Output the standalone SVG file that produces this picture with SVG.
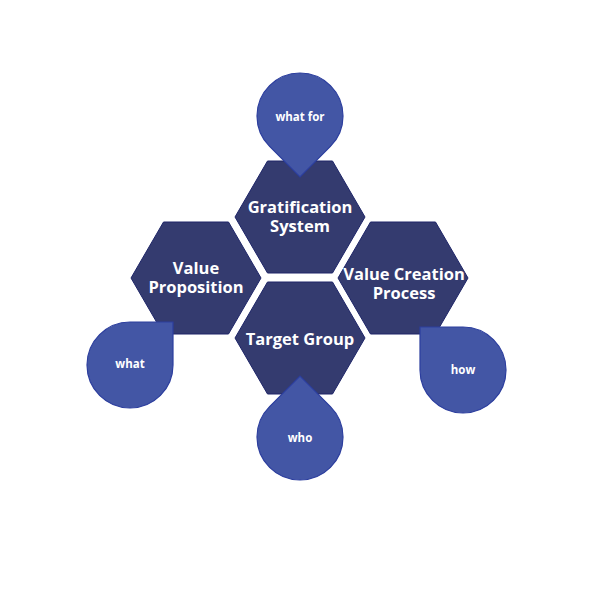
<svg xmlns="http://www.w3.org/2000/svg" width="600" height="600" viewBox="0 0 600 600">
<defs>
<style>
.hex{fill:#343B6F;stroke:#1E2568;stroke-width:1}
.drop{fill:#4356A5;stroke:#2C3E9E;stroke-width:1.2}
.ht{font-family:"Open Sans","Liberation Sans",sans-serif;font-weight:bold;font-size:16.5px;fill:#fff;text-anchor:middle}
.dt{font-family:"Open Sans","Liberation Sans",sans-serif;font-weight:bold;font-size:11.5px;fill:#fff;text-anchor:middle}
</style>
<path id="tear" d="M-43,0 A43,43 0 0 1 0,-43 L43,-43 L43,0 A43,43 0 0 1 0,43 A43,43 0 0 1 -43,0 Z"/>
<polygon id="hexshape" points="-65,0 -32.5,-56 32.5,-56 65,0 32.5,56 -32.5,56"/>
</defs>
<rect width="600" height="600" fill="#fff"/>
<g id="connectors"/>
<g id="hex-gratification">
<use href="#hexshape" class="hex" transform="translate(300,217)"/>
<text class="ht" x="300" y="213">Gratification<tspan x="300" dy="19">System</tspan></text>
</g>
<g id="hex-value-proposition">
<use href="#hexshape" class="hex" transform="translate(196,278)"/>
<text class="ht" x="196" y="274">Value<tspan x="196" dy="19">Proposition</tspan></text>
</g>
<g id="hex-value-creation">
<use href="#hexshape" class="hex" transform="translate(403,278)"/>
<text class="ht" x="404" y="280">Value Creation<tspan x="404" dy="19">Process</tspan></text>
</g>
<g id="hex-target-group">
<use href="#hexshape" class="hex" transform="translate(300,338)"/>
<text class="ht" x="300" y="345">Target Group</text>
</g>
<g id="drop-what-for">
<use href="#tear" class="drop" transform="translate(300,116) rotate(135)"/>
<text class="dt" x="300" y="121">what for</text>
</g>
<g id="drop-what">
<use href="#tear" class="drop" transform="translate(130,365)"/>
<text class="dt" x="130" y="368">what</text>
</g>
<g id="drop-how">
<use href="#tear" class="drop" transform="translate(463,370) rotate(-90)"/>
<text class="dt" x="463" y="374">how</text>
</g>
<g id="drop-who">
<use href="#tear" class="drop" transform="translate(300,437) rotate(-45)"/>
<text class="dt" x="300" y="442">who</text>
</g>
</svg>
